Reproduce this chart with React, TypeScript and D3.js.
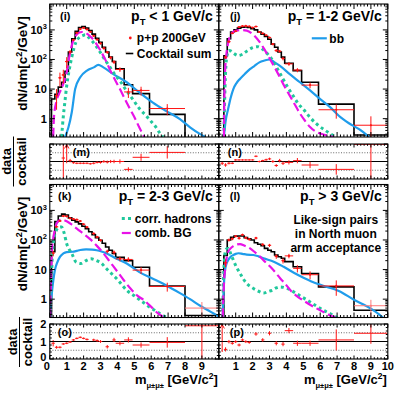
import React, { useEffect, useRef } from "react";
import * as d3 from "d3";

const W = 399;
const H = 393;
const FONT = "'Liberation Sans', Arial, Helvetica, sans-serif";

// shared mass binning (GeV/c^2)
const binEdges = [0.1, 0.3, 0.5, 0.7, 0.9, 1.1, 1.3, 1.5, 1.7, 1.9, 2.1, 2.3, 2.5, 2.7, 2.9, 3.1, 3.3, 3.5, 3.7, 3.9, 4.4, 4.9, 5.9, 8.0, 10.0];

// ---- pT < 1
const cocktailI = [4.6, 6.7, 11.6, 17, 40, 180, 500, 900, 1200, 1300, 1150, 950, 720, 520, 380, 260, 180, 120, 85, 48, 14, 7, 1.4, 0.1];
const dataI = [null, 6, 24, 30, 85, 180, 460, 800, 1080, 1170, 1040, 860, 630, 470, 350, 240, 175, 115, 82, 46, 8, 9, 2.2, null];
const dataErrI = [0, 4, 12, 15, 35, 30, 40, 50, 60, 60, 55, 50, 40, 35, 30, 25, 20, 15, 12, 8, 3, 3, 0.9, 0];
const ratioI = [null, null, null, 1.2, 2.6, 1.05, 0.93, 0.9, 0.9, 0.9, 0.9, 0.87, 0.9, 0.95, 0.95, 1.0, 0.97, 1.0, 1.0, 1.0, 0.55, 1.24, 1.52, null];
const ratioErrI = [0, 0, 0, 1.5, 1.7, 0.1, 0.06, 0.05, 0.05, 0.05, 0.05, 0.05, 0.06, 0.06, 0.07, 0.08, 0.08, 0.09, 0.1, 0.12, 0.12, 0.2, 0.35, 0];
const bbI = [[0.9, 0.24], [1.1, 0.5], [1.3, 1.65], [1.5, 10], [1.8, 25], [2.2, 42], [2.6, 54], [2.87, 66], [3.17, 54], [3.76, 32], [4.55, 17], [5.3, 7.7], [6.1, 3.5], [6.9, 1.8], [7.7, 0.96], [8.3, 0.51], [8.9, 0.3], [9.2, 0.24]];
const hadI = [[0.7, 0.24], [0.8, 1.2], [0.9, 4], [1.0, 13], [1.15, 45], [1.3, 120], [1.55, 390], [1.8, 580], [1.95, 640], [2.1, 680], [2.3, 560], [2.5, 420], [2.75, 280], [2.97, 180], [3.25, 100], [3.56, 55], [3.85, 31], [4.15, 19], [4.5, 9.5], [4.9, 4.6], [5.3, 2.2], [5.7, 1.25], [6.0, 0.8], [6.3, 0.5], [6.5, 0.33], [6.7, 0.24]];
const combI = [[0.2, 0.24], [0.25, 1.2], [0.4, 4], [0.6, 8], [0.8, 15], [1.0, 37], [1.15, 120], [1.3, 300], [1.55, 650], [1.75, 820], [1.9, 850], [2.1, 800], [2.4, 600], [2.7, 380], [3.0, 200], [3.3, 95], [3.56, 45], [3.85, 21], [4.15, 10], [4.45, 4.5], [4.75, 2.1], [5.05, 1.0], [5.3, 0.5], [5.5, 0.3], [5.6, 0.24]];

// ---- pT = 1-2
const cocktailJ = [0.1, 134, 500, 850, 1000, 1150, 1230, 1250, 1200, 1100, 1000, 850, 720, 600, 480, 330, 260, 180, 120, 75, 42, 17, 3.1, 0.28];
const dataJ = [null, 120, 400, 770, 900, 1250, 1340, 1360, 1310, 1200, 1300, 850, 760, 660, 550, 330, 200, 190, 108, 71, 44, 13.6, 2.0, 0.6];
const dataErrJ = [0, 15, 30, 40, 45, 50, 50, 50, 50, 48, 48, 45, 40, 38, 35, 28, 22, 20, 15, 10, 7, 3, 1.0, 0.6];
const ratioJ = [0.9, 0.8, 0.9, 0.9, 1.09, 1.09, 1.09, 1.09, 1.09, 1.09, 1.3, 1.0, 1.05, 1.1, 1.15, 1.0, 0.77, 1.05, 0.9, 0.95, 1.05, 0.8, 0.55, 1.98];
const ratioErrJ = [0.1, 0.1, 0.07, 0.05, 0.05, 0.04, 0.04, 0.04, 0.04, 0.04, 0.05, 0.05, 0.05, 0.06, 0.07, 0.08, 0.08, 0.1, 0.1, 0.12, 0.15, 0.18, 0.3, 2.5];
const bbJ = [[0.3, 0.24], [0.4, 0.8], [0.55, 2.1], [0.7, 5], [0.86, 10], [1.05, 16], [1.25, 22], [1.55, 33], [1.84, 47], [2.1, 60], [2.4, 80], [2.7, 92], [3.0, 100], [3.3, 80], [3.6, 62], [4.2, 32], [4.8, 17], [5.4, 9], [6.0, 4.6], [6.6, 2.4], [7.1, 1.25], [7.7, 0.7], [8.3, 0.44], [8.9, 0.24]];
const hadJ = [[0.3, 0.24], [0.35, 5], [0.42, 60], [0.5, 150], [0.6, 200], [0.75, 190], [0.9, 160], [1.15, 135], [1.4, 150], [1.7, 200], [2.0, 250], [2.3, 270], [2.6, 220], [2.9, 150], [3.2, 90], [3.5, 45], [3.8, 22], [4.1, 11], [4.4, 5.9], [4.7, 3.2], [5.0, 2.1], [5.4, 1.1], [5.8, 0.65], [6.3, 0.4], [6.9, 0.24]];
const combJ = [[0.3, 0.24], [0.35, 20], [0.45, 150], [0.55, 350], [0.66, 620], [0.85, 850], [1.06, 950], [1.3, 990], [1.65, 950], [2.0, 720], [2.4, 400], [2.7, 220], [3.0, 110], [3.3, 55], [3.6, 26], [3.9, 12], [4.2, 6], [4.5, 3], [4.8, 1.5], [5.1, 0.85], [5.4, 0.52], [5.8, 0.35], [6.3, 0.28], [6.8, 0.24]];

// ---- pT = 2-3
const cocktailK = [40, 420, 650, 750, 700, 560, 470, 410, 350, 290, 240, 190, 150, 120, 98, 78, 58, 45, 35, 26, 20, 12, 2.8, 0.28];
const dataK = [36, 280, 440, 645, 630, 540, 510, 485, 435, 340, 270, null, 165, 126, 98, null, 41, null, 38, 23, 22, 9.6, 2.7, 0.5];
const dataErrK = [8, 25, 30, 40, 40, 35, 32, 30, 28, 25, 22, 0, 15, 12, 10, 0, 6, 0, 6, 4, 4, 2.5, 0.9, 0.3];
const ratioK = [0.9, 0.67, 0.67, 0.86, 0.9, 0.97, 1.09, 1.18, 1.24, 1.18, 1.12, null, 1.09, 1.05, 1.0, null, 0.7, null, 1.09, 0.9, 1.09, 0.8, 0.95, 1.9];
const ratioErrK = [0.18, 0.08, 0.06, 0.05, 0.05, 0.05, 0.05, 0.05, 0.05, 0.05, 0.06, 0, 0.07, 0.07, 0.08, 0, 0.1, 0, 0.12, 0.12, 0.15, 0.15, 0.3, 2.5];
const bbK = [[0.0, 0.24], [0.05, 0.6], [0.1, 1.2], [0.2, 4], [0.3, 9.4], [0.45, 18], [0.6, 27], [0.8, 35], [1.0, 39], [1.35, 40], [1.6, 43], [1.8, 46], [2.15, 48], [2.5, 47], [2.77, 45], [3.1, 40], [3.37, 35], [3.96, 23], [4.55, 16], [5.3, 8.2], [6.1, 4.9], [6.9, 2.9], [7.7, 1.6], [8.3, 1.0], [8.9, 0.6], [9.5, 0.38], [10.0, 0.26]];
const hadK = [[0.02, 0.24], [0.08, 3], [0.15, 30], [0.25, 120], [0.4, 220], [0.55, 270], [0.7, 275], [0.85, 170], [1.0, 75], [1.15, 48], [1.3, 35], [1.55, 18], [1.85, 16], [2.15, 20], [2.45, 23], [2.77, 20], [3.07, 16], [3.3, 11.5], [3.56, 8.2], [4.05, 4.3], [4.55, 2.0], [5.0, 1.3], [5.5, 0.8], [6.0, 0.5], [6.5, 0.33], [6.9, 0.24]];
const combK = [[0.02, 0.24], [0.07, 5], [0.12, 40], [0.2, 110], [0.3, 230], [0.45, 400], [0.6, 470], [0.72, 490], [0.85, 470], [1.0, 430], [1.3, 330], [1.6, 240], [2.0, 160], [2.4, 105], [2.8, 62], [3.2, 34], [3.6, 17], [4.0, 8.5], [4.4, 4.2], [4.8, 2.2], [5.2, 1.3], [5.6, 0.9], [6.0, 0.55], [6.4, 0.33], [6.8, 0.24]];

// ---- pT > 3
const cocktailL = [0.1, 30, 100, 123, 135, 137, 137, 120, 110, 100, 81, 72, 64, 52, 45, 40, 31, 27, 24, 18.5, 12.4, 7.4, 2.6, 0.42];
const dataL = [null, 17, 100, 110, 134, 115, 150, 118, 105, null, 116, null, 70, null, 66, null, 28, null, 20, 29, 11, 6.7, 2.8, 0.6];
const dataErrL = [0, 5, 12, 12, 12, 12, 12, 11, 10, 0, 12, 0, 8, 0, 8, 0, 5, 0, 4, 5, 3, 2, 1.5, 0.35];
const ratioL = [2.6, 0.55, 0.99, 0.9, 0.99, 0.8, 1.09, 0.99, 0.95, null, 1.43, null, 1.09, null, 1.47, null, 0.9, null, 0.85, 1.62, 0.9, 0.9, 1.09, 1.47];
const ratioErrL = [2.2, 0.12, 0.1, 0.08, 0.08, 0.08, 0.08, 0.08, 0.08, 0, 0.1, 0, 0.1, 0, 0.12, 0, 0.12, 0, 0.12, 0.15, 0.15, 0.15, 0.6, 0.6];
const bbL = [[0.23, 0.24], [0.3, 3], [0.37, 9.6], [0.46, 16], [0.56, 21], [0.7, 27], [0.86, 31], [1.0, 34], [1.16, 35.6], [1.4, 34], [1.65, 32], [2.05, 31], [2.35, 28], [2.65, 24], [3.25, 18.5], [3.84, 12.4], [4.44, 7.8], [5.04, 5.2], [5.83, 3.3], [6.4, 2.6], [7.1, 1.9], [8.0, 0.95], [9.0, 0.48], [9.5, 0.3], [9.7, 0.24]];
const hadL = [[0.23, 0.24], [0.28, 5], [0.34, 25], [0.42, 48], [0.56, 52], [0.7, 35], [0.86, 21], [1.05, 12], [1.26, 7.4], [1.45, 4.8], [1.65, 3.4], [2.05, 2.3], [2.4, 1.8], [2.65, 1.6], [2.9, 1.8], [3.15, 2.0], [3.4, 2.4], [3.64, 2.6], [3.85, 2.5], [4.05, 2.3], [4.4, 1.8], [4.8, 1.3], [5.2, 0.95], [5.7, 0.62], [6.2, 0.42], [6.6, 0.32], [7.0, 0.24]];
const combL = [[0.23, 0.24], [0.3, 3], [0.37, 9.6], [0.45, 22], [0.56, 40], [0.7, 52], [0.86, 62], [1.05, 70], [1.26, 73], [1.5, 65], [1.85, 52], [2.15, 38], [2.45, 27], [2.75, 18], [3.05, 12.4], [3.35, 8], [3.64, 5.0], [3.95, 3.2], [4.24, 2.0], [4.6, 1.3], [5.0, 0.9], [5.5, 0.6], [6.0, 0.42], [6.5, 0.3], [6.9, 0.24]];

const yLogLabels = [
  { v: 1, base: "1", sup: "" },
  { v: 10, base: "10", sup: "" },
  { v: 100, base: "10", sup: "2" },
  { v: 1000, base: "10", sup: "3" },
];
const ratioLabels = [0, 1, 2];

const C_BB = "#1f9ceb";
const C_HAD = "#20c89c";
const C_COMB = "#e812e8";
const C_DATA = "#ff1414";

const colLeft = [49.8, 218.8];
const panelW = 169;
const mainRows = [[4, 137], [184.5, 317.5]];
const ratioRows = [[144, 179], [324, 359]];

const panels = [
  { key: "i", col: 0, row: 0, cocktail: cocktailI, data: dataI, err: dataErrI, ratio: ratioI, rerr: ratioErrI, bb: bbI, had: hadI, comb: combI, label: "(i)", lx: 10.2, rlabel: "(m)", rlx: 23, title: [" < 1 GeV/c"] },
  { key: "j", col: 1, row: 0, cocktail: cocktailJ, data: dataJ, err: dataErrJ, ratio: ratioJ, rerr: ratioErrJ, bb: bbJ, had: hadJ, comb: combJ, label: "(j)", lx: 11.2, rlabel: "(n)", rlx: 9, title: [" = 1-2 GeV/c"] },
  { key: "k", col: 0, row: 1, cocktail: cocktailK, data: dataK, err: dataErrK, ratio: ratioK, rerr: ratioErrK, bb: bbK, had: hadK, comb: combK, label: "(k)", lx: 8.2, rlabel: "(o)", rlx: 8, title: [" = 2-3 GeV/c"] },
  { key: "l", col: 1, row: 1, cocktail: cocktailL, data: dataL, err: dataErrL, ratio: ratioL, rerr: ratioErrL, bb: bbL, had: hadL, comb: combL, label: "(l)", lx: 11, rlabel: "(p)", rlx: 11, title: [" > 3 GeV/c"] },
];

export default function App() {
  const svgRef = useRef(null);

  useEffect(() => {
    const svg = d3.select(svgRef.current);
    svg.selectAll("*").remove();
    svg.append("rect").attr("width", W).attr("height", H).attr("fill", "#fff");
    const defs = svg.append("defs");

    const txt = (x, y, s, size, anchor = "start") =>
      svg.append("text")
        .attr("x", x).attr("y", y)
        .attr("font-family", FONT).attr("font-weight", "bold")
        .attr("font-size", size).attr("text-anchor", anchor)
        .attr("fill", "#000").text(s);

    const tick = (g, x1, y1, x2, y2) =>
      g.append("line").attr("x1", x1).attr("y1", y1).attr("x2", x2).attr("y2", y2)
        .attr("stroke", "#000").attr("stroke-width", 1);

    panels.forEach((p) => {
      const x0 = colLeft[p.col];
      const x1 = x0 + panelW;
      const x = d3.scaleLinear().domain([0, 10]).range([x0, x1]);
      const [mt, mb] = mainRows[p.row];
      const y = d3.scaleLog().domain([0.24, 7500]).range([mb, mt]);
      const [rt, rb] = ratioRows[p.row];
      const yr = d3.scaleLinear().domain([0, 2]).range([rb, rt]);

      defs.append("clipPath").attr("id", `cm-${p.key}`)
        .append("rect").attr("x", x0).attr("y", mt).attr("width", panelW).attr("height", mb - mt);
      defs.append("clipPath").attr("id", `cr-${p.key}`)
        .append("rect").attr("x", x0).attr("y", rt).attr("width", panelW).attr("height", rb - rt);

      // ----- main panel
      const gm = svg.append("g").attr("clip-path", `url(#cm-${p.key})`);

      const steps = [[binEdges[0], 0.01]];
      p.cocktail.forEach((v, i) => {
        steps.push([binEdges[i], v]);
        steps.push([binEdges[i + 1], v]);
      });
      steps.push([binEdges[binEdges.length - 1], 0.01]);
      const lin = d3.line().x((d) => x(d[0])).y((d) => y(d[1]));
      gm.append("path").attr("d", lin(steps))
        .attr("fill", "none").attr("stroke", "#000").attr("stroke-width", 1.6);

      const smooth = d3.line().x((d) => x(d[0])).y((d) => y(d[1])).curve(d3.curveMonotoneX);
      gm.append("path").attr("d", smooth(p.bb)).attr("fill", "none")
        .attr("stroke", C_BB).attr("stroke-width", 2.2);
      gm.append("path").attr("d", smooth(p.had)).attr("fill", "none")
        .attr("stroke", C_HAD).attr("stroke-width", 3).attr("stroke-dasharray", "3 3.2");
      gm.append("path").attr("d", smooth(p.comb)).attr("fill", "none")
        .attr("stroke", C_COMB).attr("stroke-width", 2.2).attr("stroke-dasharray", "9 4");

      p.data.forEach((v, i) => {
        if (v == null) return;
        const e = p.err[i];
        const col = (p.key === "k" || p.key === "l") && i === p.data.length - 1 ? "#ff7a7a" : C_DATA;
        const cy = y(v);
        const cx = x((binEdges[i] + binEdges[i + 1]) / 2);
        gm.append("line").attr("x1", x(binEdges[i])).attr("x2", x(binEdges[i + 1]))
          .attr("y1", cy).attr("y2", cy).attr("stroke", col).attr("stroke-width", 1);
        gm.append("line").attr("x1", cx).attr("x2", cx)
          .attr("y1", y(Math.max(v - e, 0.01))).attr("y2", y(v + e)).attr("stroke", col).attr("stroke-width", 1);
        gm.append("circle").attr("cx", cx).attr("cy", cy).attr("r", 1.1).attr("fill", col);
      });

      // frame + ticks (main)
      const fm = svg.append("g");
      fm.append("rect").attr("x", x0).attr("y", mt).attr("width", panelW).attr("height", mb - mt)
        .attr("fill", "none").attr("stroke", "#000").attr("stroke-width", 1.1);
      d3.range(0, 50.5, 1).forEach((k) => {
        const t = k / 5;
        const len = k % 5 === 0 ? 5 : 2.5;
        tick(fm, x(t), mb, x(t), mb - len);
        tick(fm, x(t), mt, x(t), mt + len);
      });
      [0.1, 1, 10, 100, 1000].forEach((dec) => {
        for (let k = 1; k <= 9; k++) {
          const v = k * dec;
          if (v < 0.24 || v > 7500) continue;
          const len = k === 1 ? 5 : 2.5;
          tick(fm, x0, y(v), x0 + len, y(v));
          tick(fm, x1, y(v), x1 - len, y(v));
        }
      });

      if (p.col === 0) {
        yLogLabels.forEach((l) => {
          const t = svg.append("text").attr("x", x0 - 3).attr("y", y(l.v) + 4)
            .attr("font-family", FONT).attr("font-weight", "bold").attr("font-size", 11)
            .attr("text-anchor", "end");
          t.append("tspan").text(l.base);
          if (l.sup) t.append("tspan").attr("font-size", 7.5).attr("dy", -4.5).text(l.sup);
        });
      }

      // panel label and title
      txt(x0 + p.lx, mt + 15.5, p.label, 11);
      const tt = svg.append("text").attr("x", x0 + 163).attr("y", mt + 16.5)
        .attr("font-family", FONT).attr("font-weight", "bold").attr("font-size", 14)
        .attr("text-anchor", "end");
      tt.append("tspan").text("p");
      tt.append("tspan").attr("font-size", 9.5).attr("dy", 4).text("T");
      tt.append("tspan").attr("dy", -4).text(p.title[0]);

      // ----- ratio panel
      const gr = svg.append("g").attr("clip-path", `url(#cr-${p.key})`);
      gr.append("line").attr("x1", x0).attr("x2", x1).attr("y1", yr(1)).attr("y2", yr(1))
        .attr("stroke", "#000").attr("stroke-width", 1);
      [0.5, 1.5].forEach((g) => {
        gr.append("line").attr("x1", x0).attr("x2", x1).attr("y1", yr(g)).attr("y2", yr(g))
          .attr("stroke", "#444").attr("stroke-width", 0.8).attr("stroke-dasharray", "1 1.6");
      });
      p.ratio.forEach((v, i) => {
        if (v == null) return;
        const e = p.rerr[i];
        const cx = x((binEdges[i] + binEdges[i + 1]) / 2);
        gr.append("line").attr("x1", x(binEdges[i])).attr("x2", x(binEdges[i + 1]))
          .attr("y1", yr(v)).attr("y2", yr(v)).attr("stroke", C_DATA).attr("stroke-width", 1);
        gr.append("line").attr("x1", cx).attr("x2", cx)
          .attr("y1", yr(v - e)).attr("y2", yr(v + e)).attr("stroke", C_DATA).attr("stroke-width", 1);
        if (v > 2) {
          gr.append("path").attr("d", `M${cx - 2.2},${rt + 4.5}L${cx},${rt + 0.5}L${cx + 2.2},${rt + 4.5}`)
            .attr("fill", "none").attr("stroke", C_DATA).attr("stroke-width", 1);
        }
      });

      const fr = svg.append("g");
      fr.append("rect").attr("x", x0).attr("y", rt).attr("width", panelW).attr("height", rb - rt)
        .attr("fill", "none").attr("stroke", "#000").attr("stroke-width", 1.1);
      d3.range(0, 50.5, 1).forEach((k) => {
        const t = k / 5;
        const len = k % 5 === 0 ? 3.5 : 1.8;
        tick(fr, x(t), rb, x(t), rb - len);
        tick(fr, x(t), rt, x(t), rt + len);
      });
      d3.range(0, 10.5, 1).forEach((k) => {
        const v = k / 5;
        const len = k % 5 === 0 ? 4 : 2;
        tick(fr, x0, yr(v), x0 + len, yr(v));
        tick(fr, x1, yr(v), x1 - len, yr(v));
      });
      txt(x0 + p.rlx, rt + 12, p.rlabel, 11);

      if (p.col === 0 && p.row === 1) {
        ratioLabels.forEach((v) => txt(x0 - 3.5, yr(v) + (v === 0 ? 1.5 : 4), String(v), 11, "end"));
      }

      if (p.row === 1) {
        const labels = p.col === 0 ? d3.range(0, 10) : d3.range(1, 11);
        labels.forEach((v) => txt(v === 0 ? x(v) - 3 : x(v), 369.5, String(v), 11, "middle"));
        const xt = svg.append("text").attr("x", x1 - 1).attr("y", 384)
          .attr("font-family", FONT).attr("font-weight", "bold").attr("font-size", 13)
          .attr("text-anchor", "end");
        xt.append("tspan").text("m");
        xt.append("tspan").attr("font-size", 7.5).attr("dy", 4).text("μ±μ±");
        xt.append("tspan").attr("dy", -4).text(" [GeV/c");
        xt.append("tspan").attr("font-size", 8.5).attr("dy", -5).text("2");
        xt.append("tspan").attr("dy", 5).text("]");
      }

      if (p.col === 0) {
        const cy = (mt + mb) / 2 - 7;
        const yt = svg.append("text").attr("transform", `translate(27,${cy}) rotate(-90)`)
          .attr("font-family", FONT).attr("font-weight", "bold").attr("font-size", 13.5)
          .attr("text-anchor", "middle");
        yt.append("tspan").text("dN/dm[c");
        yt.append("tspan").attr("font-size", 9).attr("dy", -5).text("2");
        yt.append("tspan").attr("dy", 5).text("/GeV]");

        const shift = p.row === 0 ? -6 : 0;
        const ry = p.row === 0 ? 161.5 : 342;
        svg.append("text").attr("transform", `translate(${17 + shift},${ry}) rotate(-90)`)
          .attr("font-family", FONT).attr("font-weight", "bold").attr("font-size", 13)
          .attr("text-anchor", "middle").text("data");
        svg.append("line").attr("x1", 19.5 + shift).attr("x2", 19.5 + shift)
          .attr("y1", ry - 25).attr("y2", ry + 25).attr("stroke", "#000").attr("stroke-width", 1);
        svg.append("text").attr("transform", `translate(${32 + shift},${ry}) rotate(-90)`)
          .attr("font-family", FONT).attr("font-weight", "bold").attr("font-size", 13)
          .attr("text-anchor", "middle").text("cocktail");
      }

      // legends / notes
      if (p.key === "i") {
        svg.append("circle").attr("cx", x0 + 80.5).attr("cy", mt + 34).attr("r", 1.4).attr("fill", C_DATA);
        txt(x0 + 87, mt + 38, "p+p 200GeV", 12);
        svg.append("line").attr("x1", x0 + 76).attr("x2", x0 + 83.5).attr("y1", mt + 49.5).attr("y2", mt + 49.5)
          .attr("stroke", "#000").attr("stroke-width", 1.6);
        txt(x0 + 87, mt + 54, "Cocktail sum", 12);
      }
      if (p.key === "j") {
        svg.append("line").attr("x1", x0 + 93).attr("x2", x0 + 108).attr("y1", mt + 34.3).attr("y2", mt + 34.3)
          .attr("stroke", C_BB).attr("stroke-width", 2.2);
        txt(x0 + 110.5, mt + 38.5, "bb", 12);
      }
      if (p.key === "k") {
        svg.append("line").attr("x1", x0 + 72).attr("x2", x0 + 84).attr("y1", mt + 34).attr("y2", mt + 34)
          .attr("stroke", C_HAD).attr("stroke-width", 3).attr("stroke-dasharray", "3 3.2");
        txt(x0 + 85, mt + 38, "corr. hadrons", 12);
        svg.append("line").attr("x1", x0 + 72).attr("x2", x0 + 84).attr("y1", mt + 48.5).attr("y2", mt + 48.5)
          .attr("stroke", C_COMB).attr("stroke-width", 2.2).attr("stroke-dasharray", "9 4");
        txt(x0 + 85, mt + 52.5, "comb. BG", 12);
      }
      if (p.key === "l") {
        txt(x0 + 117, mt + 39.5, "Like-sign pairs", 12, "middle");
        txt(x0 + 117, mt + 53.5, "in North muon", 12, "middle");
        txt(x0 + 117, mt + 67, "arm acceptance", 12, "middle");
      }
    });
  }, []);

  return (
    <div style={{ position: "absolute", left: 0, top: 0, width: W, height: H, background: "#fff" }}>
      <svg ref={svgRef} width={W} height={H} style={{ display: "block" }}></svg>
    </div>
  );
}
